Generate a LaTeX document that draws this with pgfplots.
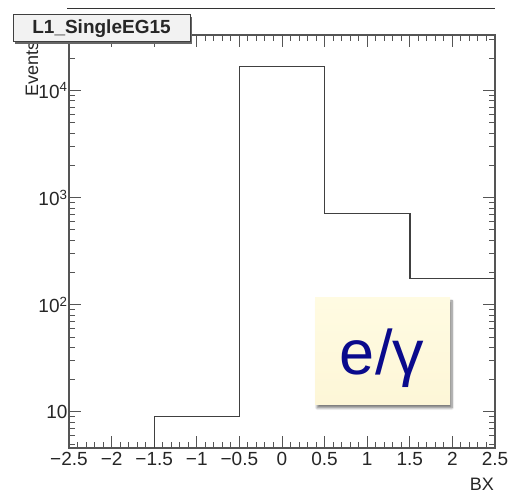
\documentclass[border=0pt]{standalone}
\usepackage{fontspec}
\setmainfont{Liberation Sans}
\usepackage{pgfplots}
\pgfplotsset{compat=1.18}
\usetikzlibrary{shadows,shadows.blur}
\definecolor{axgray}{RGB}{85,85,85}
\definecolor{creamtop}{RGB}{255,251,226}
\definecolor{creambot}{RGB}{253,246,215}
\definecolor{navy}{RGB}{10,10,140}
\begin{document}
\begin{tikzpicture}[x=1pt,y=1pt]
\path[use as bounding box] (0,0) rectangle (511,495);
% stats box remnant
\draw[black!80, line width=1pt] (67,486) -- (495,486);
\begin{axis}[
  at={(69pt,47pt)}, anchor=south west, scale only axis,
  width=426pt, height=413pt,
  ymode=log,
  xmin=-2.5, xmax=2.5, ymin=4.6, ymax=3.3e4,
  xtick={-2.5,-2,-1.5,-1,-0.5,0,0.5,1,1.5,2,2.5},
  xticklabels={−2.5,−2,−1.5,−1,−0.5,0,0.5,1,1.5,2,2.5},
  minor x tick num=4,
  ytick={10,100,1000,10000},
  yticklabels={10,10\textsuperscript{2},10\textsuperscript{3},10\textsuperscript{4}},
  minor ytick={5,6,7,8,9,20,30,40,50,60,70,80,90,200,300,400,500,600,700,800,900,2000,3000,4000,5000,6000,7000,8000,9000,20000,30000},
  tick align=inside,
  major tick length=12pt, minor tick length=6pt,
  xtick pos=both, ytick pos=both,
  axis line style={axgray, line width=1.3pt},
  tick style={axgray, line width=1pt},
  /pgf/number format/assume math mode=true,
  ticklabel style={font=\fontsize{19}{19}\selectfont, text=black!85},
  xticklabel style={yshift=-1pt},
  yticklabel style={xshift=2pt},
  clip=true,
]
\addplot[const plot mark left, draw=black!75, line width=1.4pt]
  coordinates {(-2.5,1) (-1.5,9) (-0.5,16800) (0.5,712) (1.5,175) (2.5,175)};
\end{axis}
% x label
\node[anchor=base east, font=\fontsize{18}{18}\selectfont, text=black!85, inner sep=0] at (494,5) {BX};
% y label
\node[rotate=90, anchor=base west, font=\fontsize{18}{18}\selectfont, text=black!85, inner sep=0] at (38,398) {Events};
% title box
\node[draw=black!75, line width=1pt, fill=black!5, minimum width=177pt, minimum height=27pt,
      drop shadow={shadow xshift=2pt, shadow yshift=-2pt, fill=black!60, opacity=1},
      font=\bfseries\fontsize{19}{19}\selectfont, text=black!85, inner sep=0] at (101.5,466.5) {L1\_SingleEG15};
% e/gamma box
\shade[top color=creamtop, bottom color=creambot, blur shadow={shadow xshift=2pt, shadow yshift=-3pt, shadow blur steps=8, shadow opacity=50}]
  (315,90) rectangle (450,197);
\node[anchor=base, font=\fontsize{63}{63}\selectfont, text=navy, inner sep=0] at (382,120) {e/γ};
\end{tikzpicture}
\end{document}
